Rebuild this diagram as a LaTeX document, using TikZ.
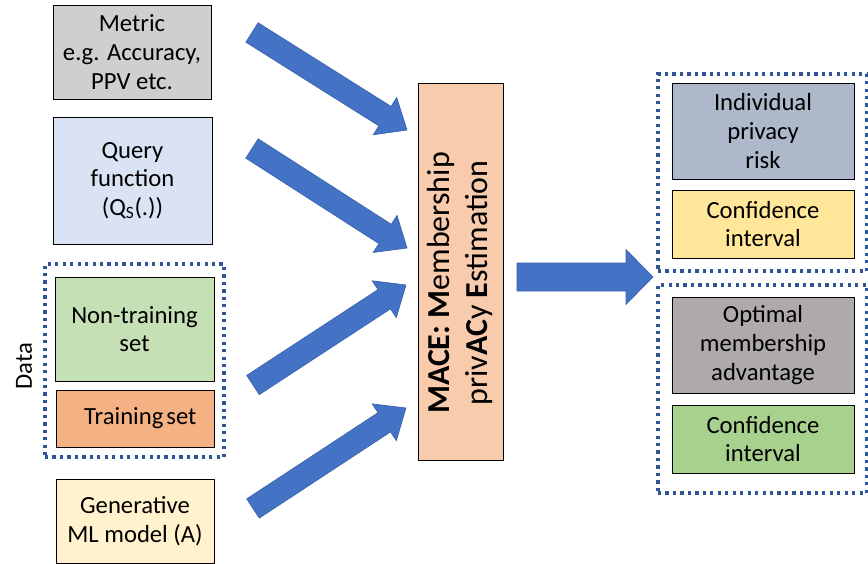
\documentclass[tikz,border=0pt]{standalone}
\usepackage{fontspec}
\setmainfont{Carlito}
\usetikzlibrary{calc}
\definecolor{cMetric}{HTML}{D0CECE}
\definecolor{cQuery}{HTML}{DAE3F3}
\definecolor{cNon}{HTML}{C5E0B4}
\definecolor{cTrain}{HTML}{F4B183}
\definecolor{cGen}{HTML}{FFF2CC}
\definecolor{cMace}{HTML}{F8CBAD}
\definecolor{cIndiv}{HTML}{ADB9CA}
\definecolor{cConfY}{HTML}{FFE699}
\definecolor{cOpt}{HTML}{AEAAAA}
\definecolor{cConfG}{HTML}{A9D18E}
\definecolor{cDot}{HTML}{2F5597}
\definecolor{cArrow}{HTML}{4472C4}
\definecolor{cArrowEdge}{HTML}{3A62AD}
\newcommand{\blockarr}[6]{%
  \coordinate (#6b) at ($(#2)!#5!(#1)$);
  \draw[arrowst] ($(#1)!#3!90:(#2)$) -- ($(#6b)!#3!90:(#2)$) -- ($(#6b)!#4!90:(#2)$)
    -- (#2) -- ($(#6b)!#4!-90:(#2)$) -- ($(#6b)!#3!-90:(#2)$) -- ($(#1)!#3!-90:(#2)$) -- cycle;}
\begin{document}
\begin{tikzpicture}[x=0.75pt,y=-0.75pt,
  sz/.style 2 args={minimum width=#1*0.75pt, minimum height=#2*0.75pt},
  box/.style={draw=black, line width=0.75pt, inner sep=0pt, align=center,
    font=\fontsize{18.5}{21.5}\selectfont},
  dotbox/.style={draw=cDot, line width=2.4pt, dash pattern=on 2.4pt off 3.2pt, inner sep=0pt},
  arrowst/.style={fill=cArrow, draw=cArrowEdge, line width=0.5pt, line join=miter},
  lbl/.style={inner sep=0pt, align=center}]
\useasboundingbox (0,0) rectangle (868,564);
% left inputs
\node[box, fill=cMetric, sz={158}{94}] (metric) at (132,52) {Metric\\e.g. Accuracy,\\PPV etc.};
\node[box, fill=cQuery, sz={159}{127}] (query) at (132.5,180.5) {Query\\function\\(Q\textsubscript{S}(.))};
\node[dotbox, sz={179}{193}] (data) at (134.5,360.5) {};
\node[box, fill=cNon, sz={159}{104}] (nontrain) at (134.5,329) {Non-training\\set};
\node[box, fill=cTrain, sz={158}{57}] (train) at (135,418.5) {\hspace{8pt}Training\hspace{0.12em}set};
\node[box, fill=cGen, sz={158}{84}] (gen) at (135,521) {Generative\\ML model (A)};
\node[lbl, rotate=90, font=\fontsize{18.5}{21.5}\selectfont] (datalbl) at (24,366) {Data};
% centre
\node[box, fill=cMace, sz={85}{377}] (mace) at (460.5,271.5) {};
\node[lbl, rotate=90, font=\fontsize{24}{28}\selectfont] (macetxt) at (460,283)
  {\textbf{MACE: M}embership\\priv\textbf{AC}y \textbf{E}stimation};
% right outputs
\node[dotbox, sz={209}{197}] (outtop) at (762.5,172.5) {};
\node[box, fill=cIndiv, sz={182}{96}] (indiv) at (763,131) {Individual\\privacy\\risk};
\node[box, fill=cConfY, sz={182}{68}] (conf1) at (763,224) {Confidence\\interval};
\node[dotbox, sz={209}{208}] (outbot) at (762.5,389) {};
\node[box, fill=cOpt, sz={182}{96}] (opt) at (763,345) {Optimal\\membership\\advantage};
\node[box, fill=cConfG, sz={182}{68}] (conf2) at (763,439) {Confidence\\interval};
% block arrows
\coordinate (a1t) at (252,32.5);  \coordinate (a1p) at (407,130);
\coordinate (a2t) at (252,148.5); \coordinate (a2p) at (407,248);
\coordinate (a3t) at (253,385);   \coordinate (a3p) at (406,285);
\coordinate (a4t) at (253,508.5); \coordinate (a4p) at (406,408);
\coordinate (a5t) at (517,277);   \coordinate (a5p) at (653,277);
\blockarr{a1t}{a1p}{8.6pt}{16.5pt}{19.5pt}{a1}
\blockarr{a2t}{a2p}{8.6pt}{16.5pt}{19.5pt}{a2}
\blockarr{a3t}{a3p}{8.6pt}{16.5pt}{19.5pt}{a3}
\blockarr{a4t}{a4p}{8.6pt}{16.5pt}{19.5pt}{a4}
\blockarr{a5t}{a5p}{10.5pt}{20.6pt}{20.25pt}{a5}
\end{tikzpicture}
\end{document}
